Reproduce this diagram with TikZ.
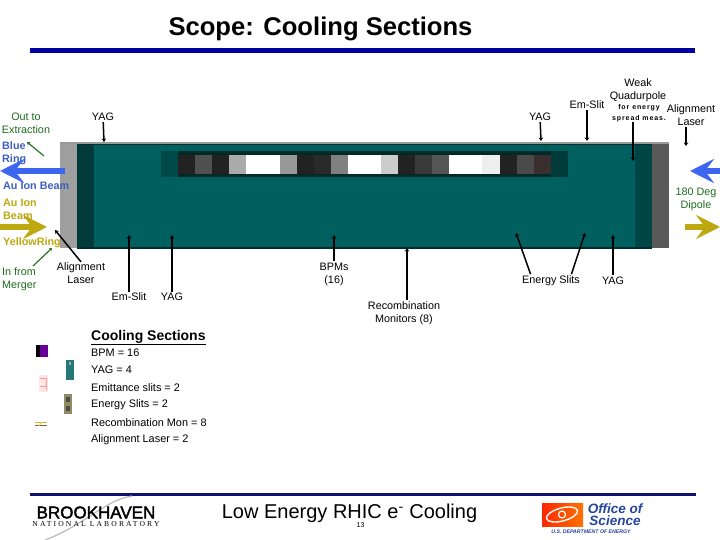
\documentclass[tikz,border=0pt]{standalone}
\usepackage{fontspec}
\usepackage{xcolor}
\setmainfont{Liberation Sans}
\newfontfamily\spacedfont[LetterSpace=13]{Liberation Sans}
\newfontfamily\heavyfont[FakeBold=2]{Liberation Sans}
\newfontfamily\labfont[LetterSpace=28]{Liberation Serif}
\usetikzlibrary{arrows.meta,shapes,bending}
\definecolor{ruleblue}{HTML}{0000A0}
\definecolor{rulenavy}{HTML}{10106E}
\definecolor{pipeteal}{HTML}{005F5F}
\definecolor{pipedark}{HTML}{003A3A}
\definecolor{beamblue}{HTML}{3D66F0}
\definecolor{ringblue}{HTML}{3F5FC0}
\definecolor{ringyellow}{HTML}{BDA80F}
\definecolor{notegreen}{HTML}{1E6B1E}
\definecolor{officeblue}{HTML}{26459F}
\begin{document}
\begin{tikzpicture}[x=1pt,y=-1pt,=>stealth,
lab/.style={font=\fontsize{10.8}{13}\selectfont,align=center,inner sep=1pt},
item/.style={font=\fontsize{10.9}{13}\selectfont,anchor=west,inner sep=0pt},
green/.style={lab,notegreen},
ring/.style={font=\bfseries\fontsize{10.8}{13}\selectfont,align=left,anchor=west,inner sep=0pt},
pointer/.style={line width=1.5pt,-{Stealth[length=3.5pt,width=4.5pt]}},
greenptr/.style={line width=1.1pt,notegreen,-{Stealth[length=3pt,width=4pt]}},
beam/.style={line width=6pt,-{Stealth[length=24pt,width=24pt,inset=9pt]}}]
\useasboundingbox (0,0) rectangle (720,540);
\node[font=\bfseries\fontsize{25.6}{28}\selectfont,inner sep=0pt] (title) at (320.5,29) {Scope: Cooling Sections};
\fill[ruleblue](30,48.5) rectangle (695,53.5);
\fill[gray!75!white](60,142) rectangle (77,248);
\fill[pipedark](77,142) rectangle (94,248);
\fill[pipeteal](94,142) rectangle (635,248);
\fill[pipedark!70!pipeteal](635,142) rectangle (652,248);
\fill[black!65!white](652,142) rectangle (669,248);
\fill[gray!80!white](60,142) rectangle (669,144);
\fill[pipedark!80!black](77,144) rectangle (652,145.5);
\fill[pipedark!80!black](77,247) rectangle (652,248.5);
\fill[pipedark!60!pipeteal](161,151) rectangle (178,177);
\fill[pipedark!70!black](178,151) rectangle (551,177);
\fill[pipedark](551,151) rectangle (568,177);
\foreach \xa/\xb/\shade in {178/195/222222,195/212/505050,212/229/222222,229/246/AAAAAA,246/280/FFFFFF,280/297/999999,297/314/222222,314/331/2A2A2A,331/348/808080,348/381/FFFFFF,381/398/CCCCCC,398/415/222222,415/432/3A3A3A,432/449/555555,449/482/FFFFFF,482/500/EEEEEE,500/517/222222,517/534/4A4A4A,534/551/3A2E2E}
{\definecolor{blockshade}{HTML}{\shade}
\fill[blockshade](\xa,155) rectangle (\xb,174);}
\node[green] (extract) at (26,123.5) {Out to\\Extraction};
\node[ring,ringblue] (bluering) at (2,153) {Blue\\Ring};
\node[ring,ringblue] (blueion) at (3,185.5) {Au Ion Beam};
\node[ring,ringyellow] (yellowion) at (3,209.5) {Au Ion\\Beam};
\node[ring,ringyellow] (yellowring) at (3,242.5) {YellowRing};
\node[ring,notegreen,font=\fontsize{10.8}{13}\selectfont] (merger) at (2,279) {In from\\Merger};
\node[green] (dipole) at (696,199) {180 Deg\\Dipole};
\coordinate (extractA) at (44,156);
\coordinate (extractB) at (27,142);
\coordinate (mergerA) at (33,266);
\coordinate (mergerB) at (52,248);
\draw[greenptr](extractA)--(extractB);
\draw[greenptr](mergerA)--(mergerB);
\coordinate (blueA) at (65,171);
\coordinate (blueB) at (0,171);
\coordinate (blueC) at (720,171);
\coordinate (blueD) at (690,171);
\coordinate (yellowA) at (0,227);
\coordinate (yellowB) at (47,227);
\coordinate (yellowC) at (685,227);
\coordinate (yellowD) at (720,227);
\draw[beam,beamblue](blueA)--(blueB);
\draw[beam,beamblue](blueC)--(blueD);
\draw[beam,ringyellow](yellowA)--(yellowB);
\draw[beam,ringyellow](yellowC)--(yellowD);
\node[lab] (yagA) at (103,117) {YAG};
\node[lab] (yagB) at (540,117) {YAG};
\node[lab] (slitA) at (587,105) {Em-Slit};
\node[lab] (quad) at (638,90) {Weak\\Quadurpole};
\node[font=\bfseries\spacedfont\fontsize{7}{11}\selectfont,align=center,inner sep=0pt] (spread) at (639,113) {for energy\\spread meas.};
\node[lab] (laserA) at (691,115.5) {Alignment\\Laser};
\node[lab] (laserB) at (81,273.5) {Alignment\\Laser};
\node[lab] (slitB) at (129,297) {Em-Slit};
\node[lab] (yagC) at (172,297) {YAG};
\node[lab] (bpms) at (334,274) {BPMs\\(16)};
\node[lab] (recomb) at (404,313) {Recombination\\Monitors (8)};
\node[lab] (energy) at (551,280.5) {Energy Slits};
\node[lab] (yagD) at (613,280.5) {YAG};
\coordinate (yagAend) at (104,142);
\coordinate (yagBend) at (541,141);
\coordinate (slitAend) at (587,141);
\coordinate (spreadend) at (633,161);
\coordinate (laserAend) at (686,146);
\coordinate (laserBend) at (55,230);
\coordinate (slitBend) at (129,235);
\coordinate (yagCend) at (172,235);
\coordinate (bpmsend) at (334,235);
\coordinate (recombend) at (407,248);
\coordinate (energyA) at (516,233);
\coordinate (energyB) at (585,233);
\coordinate (yagDend) at (613,235);
\draw[pointer](yagA)--(yagAend);
\draw[pointer](yagB)--(yagBend);
\draw[pointer](slitA)--(slitAend);
\draw[pointer](spread.south -| spreadend)--(spreadend);
\draw[pointer](laserA.south -| laserAend)--(laserAend);
\draw[pointer](laserB.north)--(laserBend);
\draw[pointer](slitB)--(slitBend);
\draw[pointer](yagC)--(yagCend);
\draw[pointer](bpms)--(bpmsend);
\draw[pointer](recomb.north -| recombend)--(recombend);
\draw[pointer](energy.163)--(energyA);
\draw[pointer](energy.17)--(energyB);
\draw[pointer](yagD)--(yagDend);
\node[font=\bfseries\fontsize{14}{16}\selectfont,anchor=west,inner sep=0pt] (coolhead) at (91,337.5) {\underline{Cooling Sections}};
\node[item] (itemA) at (91,353) {BPM = 16};
\node[item] (itemB) at (91,370) {YAG = 4};
\node[item] (itemC) at (91,388) {Emittance slits = 2};
\node[item] (itemD) at (91,405) {Energy Slits = 2};
\node[item] (itemE) at (91,423) {Recombination Mon = 8};
\node[item] (itemF) at (91,440) {Alignment Laser = 2};
\fill[black](36,345) rectangle (40,357);
\fill[violet!80!blue](40,345) rectangle (48,357);
\fill[pipeteal!85!white](66,360) rectangle (74,380);
\fill[gray!70!white](68.5,362) rectangle (70.5,365);
\fill[red!10!white](39,375) rectangle (48,392);
\draw[red!40!white,line width=0.6pt](40,378)--(47,378)(46,379)--(46,390)(40,386)--(47,386);
\fill[gray!70!olive](64,394) rectangle (72,414);
\fill[black!70!white](66,397) rectangle (70,402);
\fill[black!70!white](66,406) rectangle (70,411);
\draw[olive!60!white,line width=0.7pt](35,422.5)--(47,422.5);
\draw[black!60!white,line width=0.7pt](35,425.5)--(47,425.5);
\draw[yellow!80!orange,line width=0.8pt](39,425.5)--(42,422.5);
\fill[rulenavy](30,493) rectangle (162,495.5);
\fill[rulenavy](162,492.5) rectangle (696,496);
\draw[gray!55!white,line width=1.2pt](132,496) .. controls (105,500) and (85,525) .. (45,540);
\node[font=\heavyfont\fontsize{17}{18}\selectfont,inner sep=0pt] (brook) at (96,512.5) {BROOKHAVEN};
\node[font=\labfont\fontsize{7.6}{8}\selectfont,inner sep=0pt] (natlab) at (96,524.5) {NATIONAL LABORATORY};
\node[font=\fontsize{20}{24}\selectfont,inner sep=0pt] (footer) at (349.5,513.5) {Low Energy RHIC e\textsuperscript{-} Cooling};
\node[font=\fontsize{7}{8}\selectfont,inner sep=0pt] (pagenum) at (360.5,525.5) {13};
\shade[left color=red!70!orange,right color=orange!90!red](542,503) rectangle (583,526);
\draw[white,line width=1.4pt,rotate around={15:(562,514.5)}](562,514.5) ellipse (16 and 6.5);
\draw[white,line width=1.2pt](562,514.5) circle (3.5);
\node[font=\bfseries\itshape\fontsize{13.5}{12}\selectfont,text=officeblue,inner sep=0pt,align=center] (office) at (615,515) {Office of\\Science};
\node[font=\bfseries\itshape\fontsize{5.2}{6}\selectfont,text=officeblue,inner sep=0pt] (doe) at (591,532) {U.S. DEPARTMENT OF ENERGY};
\end{tikzpicture}
\end{document}
